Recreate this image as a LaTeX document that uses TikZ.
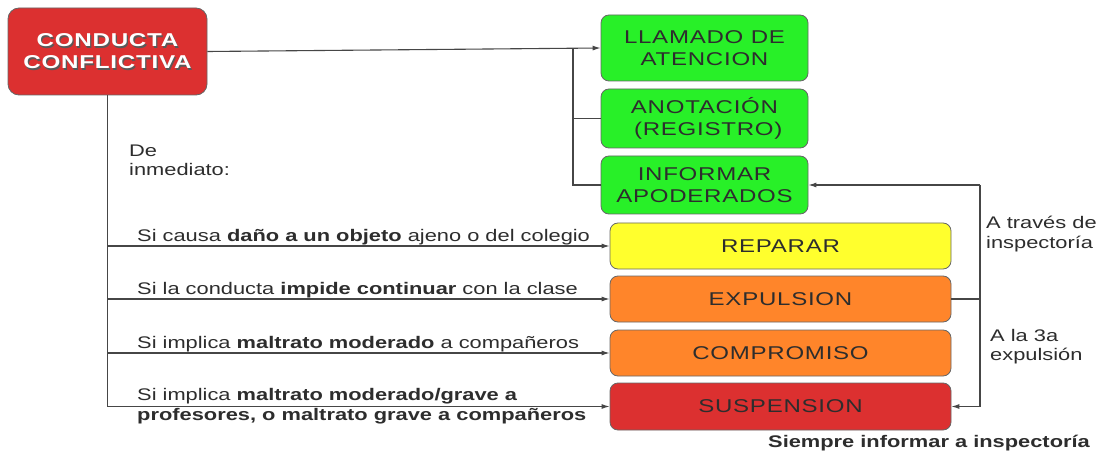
\documentclass[tikz,border=0pt]{standalone}
\usepackage{fontspec}
\setmainfont{Liberation Sans}[FakeStretch=1.3]
\newfontfamily\boxfont{Liberation Sans}[FakeStretch=1.3, LetterSpace=4]
\usetikzlibrary{arrows.meta}
\definecolor{boxgreen}{RGB}{40,240,40}
\definecolor{boxyellow}{RGB}{255,255,45}
\definecolor{boxorange}{RGB}{255,133,42}
\definecolor{boxred}{RGB}{220,48,48}
\definecolor{txtgray}{RGB}{45,45,45}
\definecolor{linegray}{RGB}{70,70,70}
\tikzset{
  box/.style={draw=black!60, line width=0.8pt, rounded corners=8pt, text=txtgray,
    align=center, font=\boxfont\fontsize{18.5}{22}\selectfont, inner sep=0pt},
  conn/.style={draw=linegray, line width=1.1pt},
  arr/.style={conn, -{Latex[length=8pt,width=5pt]}},
  lbl/.style={text=txtgray, font=\fontsize{16.8}{19.5}\selectfont, inner sep=0pt, align=left},
  title/.style={font=\boxfont\bfseries\fontsize{18.6}{22}\selectfont, align=center, inner sep=0pt}
}
\begin{document}
\begin{tikzpicture}[x=1pt,y=-1pt]
\useasboundingbox[fill=white] (0,0) rectangle (1100,457);
% main box
\node[box, fill=boxred, minimum width=199pt, minimum height=87pt, rounded corners=11pt] (cc) at (107.5,51.5) {};
\node[title, text=black!65] (ccs) at ([shift={(1.3,1.3)}]cc.center) {CONDUCTA\\CONFLICTIVA};
\node[title, text=white] (cct) at (cc.center) {CONDUCTA\\CONFLICTIVA};
% green boxes
\node[box, fill=boxgreen, minimum width=207pt, minimum height=66pt] (llam) at (704.5,48) {LLAMADO DE\\ATENCION};
\node[box, fill=boxgreen, minimum width=207pt, minimum height=59pt] (anot) at (704.5,118.5) {ANOTACIÓN\\\ (REGISTRO)};
\node[box, fill=boxgreen, minimum width=207pt, minimum height=58pt] (info) at (704.5,185) {INFORMAR\\APODERADOS};
% consequence boxes
\node[box, fill=boxyellow, minimum width=341pt, minimum height=46pt] (rep) at (780.5,246) {REPARAR};
\node[box, fill=boxorange, minimum width=341pt, minimum height=46pt] (exp) at (780.5,299) {EXPULSION};
\node[box, fill=boxorange, minimum width=341pt, minimum height=46pt] (comp) at (780.5,353) {COMPROMISO};
\node[box, fill=boxred, minimum width=341pt, minimum height=47pt] (susp) at (780.5,406.5) {SUSPENSION};
% top connectors
\draw[arr] (cc.east) -- (llam.west);
\coordinate (jt) at (573,48.6);
\draw[conn] (jt) |- (info.west);
\draw[conn] (jt |- anot.west) -- (anot.west);
% left trunk
\coordinate (lb) at (107.5,406.5);
\draw[conn] (cc.south) -- (lb);
\draw[arr] (cc.south |- rep.west) -- (rep.west);
\draw[arr] (cc.south |- exp.west) -- (exp.west);
\draw[arr] (cc.south |- comp.west) -- (comp.west);
\draw[arr] (lb) -- (susp.west);
% right loop
\coordinate (r1) at (980,185);
\coordinate (r2) at (980,406.5);
\draw[arr] (r1) -- (info.east);
\draw[conn] (r1) -- (r2);
\draw[arr] (r2) -- (susp.east);
\draw[conn] (exp.east) -- (exp.east -| r1);
% labels
\node[lbl, anchor=west] (dein) at (129,160.5) {De\\inmediato:};
\node[lbl, anchor=base west] (l1) at (137,241) {Si causa \textbf{daño a un objeto} ajeno o del colegio};
\node[lbl, anchor=base west] (l2) at (137,294.5) {Si la conducta \textbf{impide continuar} con la clase};
\node[lbl, anchor=base west] (l3) at (137,348) {Si implica \textbf{maltrato moderado} a compañeros};
\node[lbl, anchor=west] (l4) at (137,406) {Si implica \textbf{maltrato moderado/grave a}\\\textbf{profesores, o maltrato grave a compañeros}};
\node[lbl, anchor=west] (la) at (986,234) {A través de\\inspectoría};
\node[lbl, anchor=west] (lb3) at (990,346.5) {A la 3a\\expulsión};
\node[lbl, font=\bfseries\fontsize{16.8}{19.5}\selectfont] (siem) at (929,443) {Siempre informar a inspectoría};
\end{tikzpicture}
\end{document}
